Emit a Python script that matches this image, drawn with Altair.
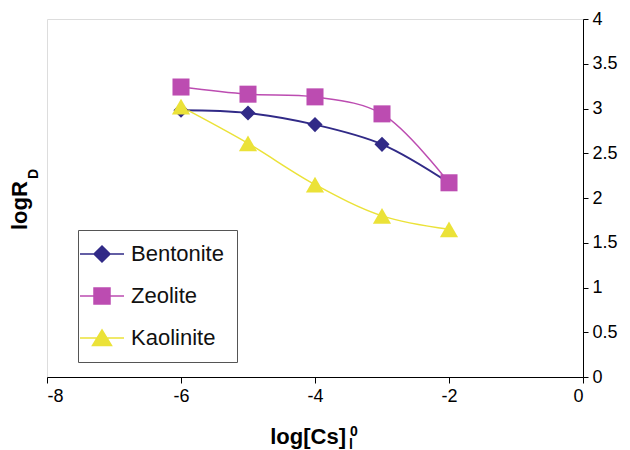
import altair as alt
import pandas as pd

# ---- data ----
x_vals = [-6, -5, -4, -3, -2]
bentonite = [2.98, 2.95, 2.82, 2.60, 2.17]
zeolite = [3.24, 3.16, 3.13, 2.94, 2.17]
kaolinite = [3.02, 2.61, 2.15, 1.80, 1.65]
series_names = ["Bentonite", "Zeolite", "Kaolinite"]
colors = ["#312A87", "#BC4CB1", "#EBE238"]
shapes = ["diamond", "square", "triangle-up"]
legend_paths = [
    "M-2.2,0H2.2M0,-0.8L0.8,0L0,0.8L-0.8,0Z",
    "M-2.2,0H2.2M-0.8,-0.8H0.8V0.8H-0.8Z",
    "M-2.2,0H2.2M0,-0.8L0.95,0.75H-0.95Z",
]
x_ticks = [-8, -6, -4, -2, 0]
y_ticks = [0, 0.5, 1, 1.5, 2, 2.5, 3, 3.5, 4]
x_title = "log[Cs]"
x_title_sub = "l"
x_title_sup = "0"
y_title = "logR"
y_title_sub = "D"

FONT = "Liberation Sans"

rows = []
for name, vals in zip(series_names, [bentonite, zeolite, kaolinite]):
    for xv, yv in zip(x_vals, vals):
        rows.append({"series": name, "x": xv, "y": yv})
df = pd.DataFrame(rows)

W, H = 536, 358

xs = alt.Scale(domain=[-8, 0], nice=False, zero=False)
ys = alt.Scale(domain=[0, 4], nice=False)

x_axis = alt.Axis(values=x_ticks, title=None, grid=False, tickSize=6, tickColor="black",
                  domainColor="black", labelColor="black", labelFont=FONT, labelFontSize=18,
                  labelPadding=4, orient="bottom", labelExpr="datum.value + ''")
y_axis = alt.Axis(values=y_ticks, title=None, grid=False, tickSize=5, tickColor="black",
                  domainColor="black", labelColor="black", labelFont=FONT, labelFontSize=18,
                  labelPadding=4, orient="right", labelExpr="datum.value + ''")

base = alt.Chart(df)

layers = []
line_widths = [2, 1.5, 1.5]
for name, col, lw in zip(series_names, colors, line_widths):
    layers.append(
        base.transform_filter(alt.datum.series == name)
        .mark_line(color=col, strokeWidth=lw, interpolate="catmull-rom")
        .encode(x=alt.X("x:Q", scale=xs, axis=x_axis), y=alt.Y("y:Q", scale=ys, axis=y_axis))
    )
sizes = [230, 290, 330]
for name, col, shp, sz in zip(series_names, colors, shapes, sizes):
    layers.append(
        base.transform_filter(alt.datum.series == name)
        .mark_point(shape=shp, filled=True, color=col, size=sz, opacity=1)
        .encode(x="x:Q", y="y:Q")
    )

leg = alt.Legend(orient="none", legendX=31, legendY=211, title=None,
                 strokeColor="#555555", fillColor="white", padding=13,
                 labelFont=FONT, labelFontSize=22, labelColor="#111111",
                 symbolSize=400, symbolStrokeWidth=1.5, symbolOpacity=1,
                 rowPadding=20, labelOffset=18)
legend_layer = base.mark_point(filled=True, opacity=0).encode(
    x="x:Q", y="y:Q",
    fill=alt.Fill("series:N", scale=alt.Scale(domain=series_names, range=colors), legend=leg),
    stroke=alt.Stroke("series:N", scale=alt.Scale(domain=series_names, range=colors), legend=leg),
    shape=alt.Shape("series:N", scale=alt.Scale(domain=series_names, range=legend_paths), legend=leg),
)
layers.append(legend_layer)

def txt(s, x, y, size, angle=0, align="left"):
    return alt.Chart(pd.DataFrame({"t": [s]})).mark_text(
        font=FONT, fontSize=size, fontWeight="bold", color="black",
        align=align, baseline="alphabetic", angle=angle
    ).encode(text="t:N", x=alt.value(x), y=alt.value(y))

layers += [
    txt(x_title, 299, 425, 22, align="right"),
    txt(x_title_sup, 303, 417, 14),
    txt(x_title_sub, 302, 430, 14),
    txt(y_title, -20, 211, 22, angle=270),
    txt(y_title_sub, -9, 160, 14, angle=270),
]

chart = alt.layer(*layers).properties(
    width=W, height=H,
    autosize=alt.AutoSizeParams(type="none"),
    padding={"left": 47, "top": 19, "right": 47, "bottom": 73},
).configure_view(stroke="black", strokeWidth=1).configure(background="white")

chart.save("out.html", embed_options={"renderer": "svg", "actions": False})
